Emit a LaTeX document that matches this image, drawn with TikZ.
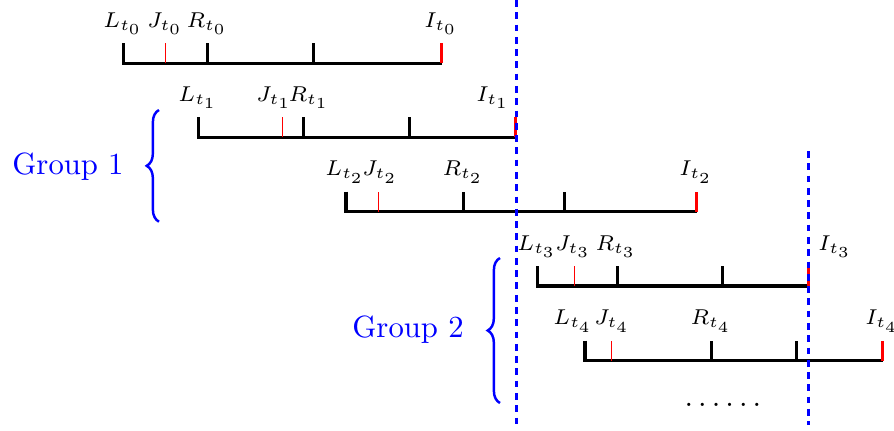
\documentclass[tikz,border=0pt]{standalone}
\usetikzlibrary{decorations.pathreplacing}
\begin{document}
\begin{tikzpicture}[x=0.3257pt,y=-0.3257pt,
  axis/.style={line width=1pt, black},
  tickj/.style={line width=0.5pt, red},
  ticki/.style={line width=0.95pt, red},
  lab/.style={font=\scriptsize, anchor=base, inner sep=0pt},
  sep/.style={blue, line width=0.85pt, dash pattern=on 2.2pt off 1.8pt},
  grp/.style={blue, line width=0.8pt, decorate, decoration={brace, amplitude=4pt}},
  grptext/.style={blue, inner sep=0pt}]
\useasboundingbox (0,0) rectangle (894,430);
% separators
\coordinate (s1t) at (516.3,0);
\coordinate (s1b) at (516.3,425);
\coordinate (s2t) at (808.3,151);
\coordinate (s2b) at (808.3,425);
% rows
\foreach \r/\y/\l/\j/\rr/\m/\i/\lL/\lJ/\lR/\lI in {
  0/63.3/123.3/165.7/207.7/313.3/441.5/123/165/207/441,
  1/137.3/198.3/282.3/303.3/409.3/515.7/198/274/309/493,
  2/211.7/346/378.3/463.3/564.3/696.7/345/380/463/696,
  3/286/537.7/574.3/617.3/722.3/808.3/537/573/616/835,
  4/360.7/585/611.7/711.7/796.7/882.7/573/612/711/882}{
  \coordinate (L\r) at (\l,\y);   \coordinate (Lt\r) at (\l,\y-20);
  \coordinate (J\r) at (\j,\y);   \coordinate (Jt\r) at (\j,\y-20);
  \coordinate (R\r) at (\rr,\y);  \coordinate (Rt\r) at (\rr,\y-20);
  \coordinate (M\r) at (\m,\y);   \coordinate (Mt\r) at (\m,\y-20);
  \coordinate (I\r) at (\i,\y);   \coordinate (It\r) at (\i,\y-20);
  \draw[axis] (Lt\r) -- (L\r) -- (I\r);
  \draw[axis] (R\r) -- (Rt\r);
  \draw[axis] (M\r) -- (Mt\r);
  \draw[tickj] (J\r) -- (Jt\r);
  \draw[ticki] (I\r) -- (It\r);
  \node[lab] (nL\r) at (\lL,\y-36) {$L_{t_\r}$};
  \node[lab] (nJ\r) at (\lJ,\y-36) {$J_{t_\r}$};
  \node[lab] (nR\r) at (\lR,\y-36) {$R_{t_\r}$};
  \node[lab] (nI\r) at (\lI,\y-36) {$I_{t_\r}$};
}
\draw[sep] (s1t) -- (s1b);
\draw[sep] (s2t) -- (s2b);
% groups
\coordinate (g1b) at (159,221.7);
\coordinate (g1t) at (159,110);
\coordinate (g2b) at (500,403);
\coordinate (g2t) at (500,258);
\draw[grp] (g1b) -- (g1t);
\draw[grp] (g2b) -- (g2t);
\node[grptext] (G1) at (68,167) {Group 1};
\node[grptext] (G2) at (408,330) {Group 2};
\node[anchor=base, inner sep=0pt] (dots) at (723,406) {$\ldots\ldots$};
\end{tikzpicture}
\end{document}
